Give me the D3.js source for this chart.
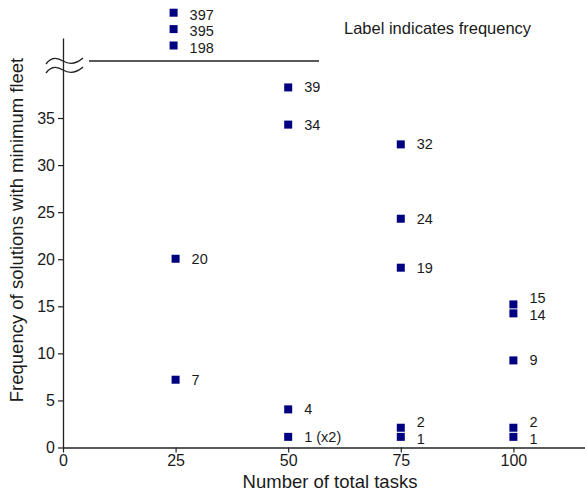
<html>
<head>
<title>Minimum fleet frequency</title>
<script src="https://d3js.org/d3.v7.min.js"></script>
<style>
  body { margin: 0; background: #fff; }
  text { font-family: "Liberation Sans", Arial, sans-serif; fill: #1a1a1a; }
</style>
</head>
<body>
<div id="chart"></div>
<script type="text/javascript">
    // values
    var tasks  = [25, 25, 50, 50, 50, 50, 75, 75, 75, 75, 75, 100, 100, 100, 100, 100];
    var freq   = [20.05, 7.2, 38.25, 34.3, 4.05, 1.13, 32.2, 24.3, 19.1, 2.1, 1.13, 15.2, 14.25, 9.25, 2.1, 1.13];
    var labels = ["20", "7", "39", "34", "4", "1 (x2)", "32", "24", "19", "2", "1", "15", "14", "9", "2", "1"];

    // the points above the axis break
    var bigTasks  = 25;
    var bigLabels = ["198", "395", "397"];

    var xTicks = [0, 25, 50, 75, 100];
    var yTicks = [0, 5, 10, 15, 20, 25, 30, 35];

    var width = 585, height = 494;

    var svg = d3.select("#chart").append("svg")
        .attr("width", width)
        .attr("height", height);

    var x = d3.scaleLinear().domain([0, 115.9]).range([63, 585]);
    var y = d3.scaleLinear().domain([0, 43.5]).range([447.5, 38]);
    // separate scale for the part above the break
    var yBig = d3.scalePoint().domain(bigLabels).range([45.5, 12.7]);

    // x axis
    var xAxis = svg.append("g")
        .attr("transform", "translate(0," + y(0) + ")")
        .call(d3.axisBottom(x).tickValues(xTicks).tickSize(5).tickSizeOuter(0).tickPadding(2));
    xAxis.select(".domain").attr("stroke", "#222").attr("stroke-width", 1.3);
    xAxis.selectAll(".tick line").attr("stroke", "#222").attr("stroke-width", 1.2);
    xAxis.selectAll(".tick text").style("font-size", "16px").attr("fill", "#1a1a1a")
        .attr("font-family", "Liberation Sans, Arial, sans-serif");

    // y axis
    var yAxis = svg.append("g")
        .attr("transform", "translate(" + x(0) + ",0)")
        .call(d3.axisLeft(y).tickValues(yTicks).tickSize(5).tickSizeOuter(0).tickPadding(3));
    yAxis.select(".domain").attr("stroke", "#222").attr("stroke-width", 1.3);
    yAxis.selectAll(".tick line").attr("stroke", "#222").attr("stroke-width", 1.2);
    yAxis.selectAll(".tick text").style("font-size", "16px").attr("fill", "#1a1a1a")
        .attr("font-family", "Liberation Sans, Arial, sans-serif");

    // break marks on the y axis
    var bx = x(0);
    [61, 70].forEach(function(by) {
        svg.append("path")
            .attr("d", "M" + (bx - 17) + "," + (by + 3) +
                       " C" + (bx - 11) + "," + (by - 5) + " " + (bx - 5) + "," + (by - 3) + " " + bx + "," + by +
                       " S" + (bx + 12) + "," + (by + 4) + " " + (bx + 20) + "," + (by - 3))
            .attr("fill", "none")
            .attr("stroke", "#222")
            .attr("stroke-width", 1.4);
    });

    // horizontal break line
    svg.append("line")
        .attr("x1", 89).attr("x2", 319)
        .attr("y1", 61).attr("y2", 61)
        .attr("stroke", "#222")
        .attr("stroke-width", 1.6);

    // label nudges so the close pairs do not overlap
    var data = tasks.map(function(t, i) {
        return {t: t, f: freq[i], label: labels[i]};
    });
    data.forEach(function(d) {
        d.dy = 0;
        data.forEach(function(e) {
            if (e !== d && e.t === d.t && Math.abs(e.f - d.f) < 1.5) {
                d.dy = d.f > e.f ? -6 : 2;
            }
        });
    });

    var s = 8;
    svg.selectAll("rect.pt")
        .data(data)
        .enter()
        .append("rect")
        .attr("class", "pt")
        .attr("x", function(d) { return x(d.t) - s / 2; })
        .attr("y", function(d) { return y(d.f) - s / 2; })
        .attr("width", s)
        .attr("height", s)
        .attr("fill", "#000080");

    svg.selectAll("text.lbl")
        .data(data)
        .enter()
        .append("text")
        .attr("class", "lbl")
        .attr("x", function(d) { return x(d.t) + 16; })
        .attr("y", function(d) { return y(d.f) + d.dy; })
        .attr("dy", "0.35em")
        .style("font-size", "14.5px")
        .text(function(d) { return d.label; });

    // points above the break
    svg.selectAll("rect.big")
        .data(bigLabels)
        .enter()
        .append("rect")
        .attr("class", "big")
        .attr("x", x(bigTasks) - 2 - s / 2)
        .attr("y", function(d) { return yBig(d) - s / 2; })
        .attr("width", s)
        .attr("height", s)
        .attr("fill", "#000080");

    svg.selectAll("text.big")
        .data(bigLabels)
        .enter()
        .append("text")
        .attr("class", "big")
        .attr("x", x(bigTasks) + 14)
        .attr("y", function(d) { return yBig(d) + 2; })
        .attr("dy", "0.35em")
        .style("font-size", "14.5px")
        .text(function(d) { return d; });

    // note
    svg.append("text")
        .attr("x", 344)
        .attr("y", 28)
        .attr("dy", "0.35em")
        .style("font-size", "16.5px")
        .text("Label indicates frequency");

    // axis titles
    svg.append("text")
        .attr("x", 330)
        .attr("y", 482)
        .attr("dy", "0.35em")
        .attr("text-anchor", "middle")
        .style("font-size", "18.5px")
        .text("Number of total tasks");

    svg.append("text")
        .attr("transform", "translate(17,230) rotate(-90)")
        .attr("dy", "0.35em")
        .attr("text-anchor", "middle")
        .style("font-size", "18.5px")
        .text("Frequency of solutions with minimum fleet");
</script>
</body>
</html>
